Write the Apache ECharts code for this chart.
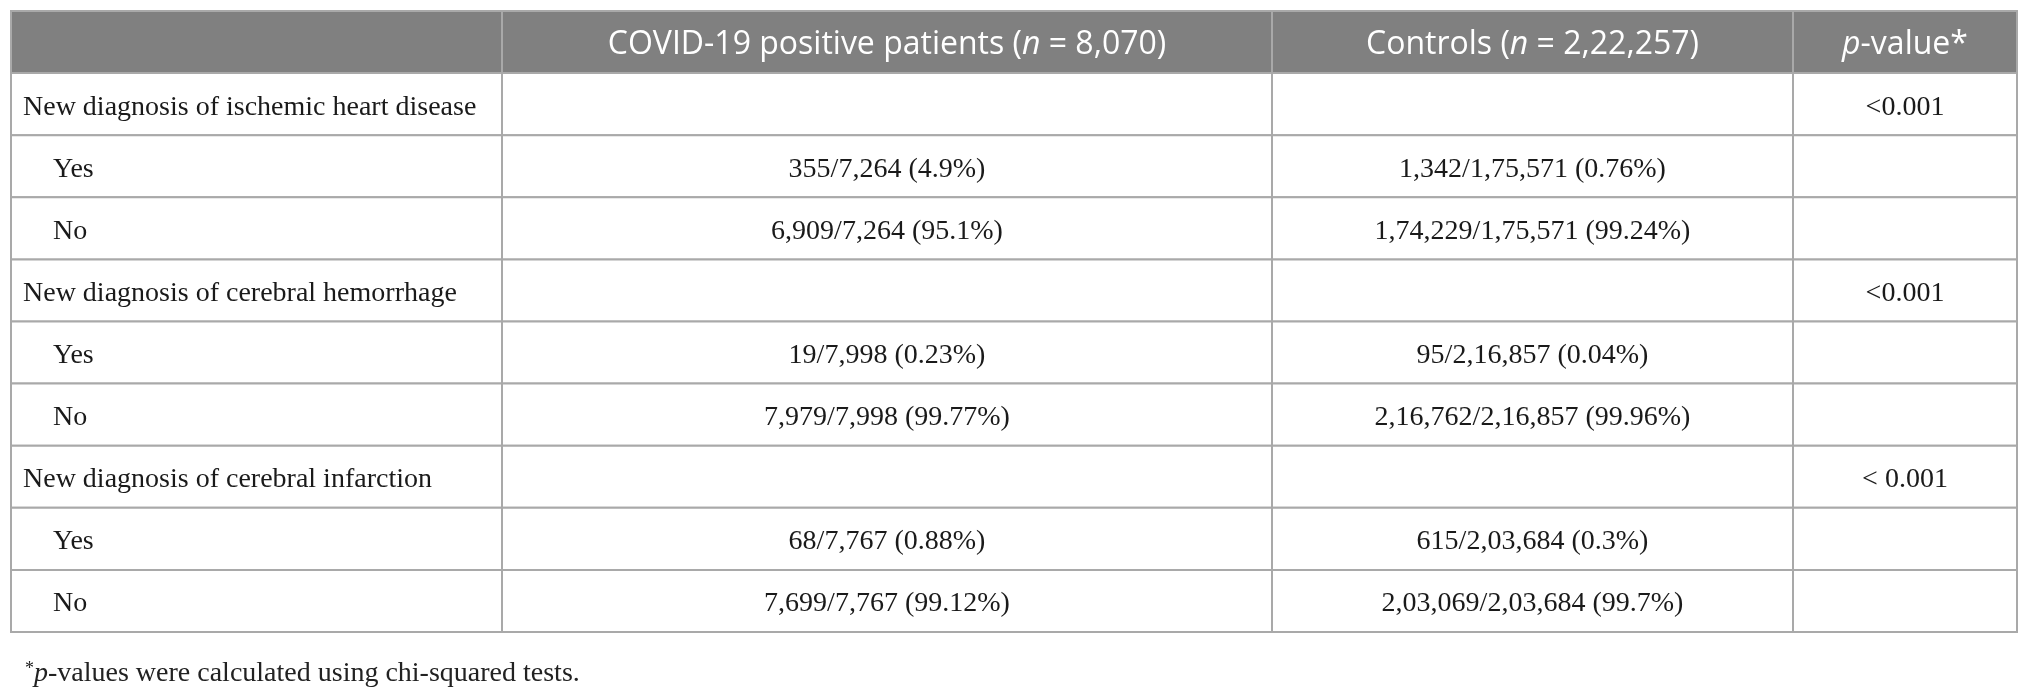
<!DOCTYPE html>
<html lang="en">
<head>
    <meta charset="UTF-8">
    <title>COVID-19 cardiovascular outcomes</title>
    <style>
        html, body { margin: 0; padding: 0; background: #fff; }
        #main { width: 2029px; height: 694px; }
    </style>
</head>
<body>
<div id="main"></div>
<script src="https://cdn.jsdelivr.net/npm/echarts@6/dist/echarts.min.js"></script>
<script type="text/javascript">
    // table content
    const headers = [
        '',
        '{h|COVID-19 positive patients (}{hi|n}{h| = 8,070)}',
        '{h|Controls (}{hi|n}{h| = 2,22,257)}',
        '{hi|p}{h|-value*}'
    ];
    const rowLabels = [
        'New diagnosis of ischemic heart disease', 'Yes', 'No',
        'New diagnosis of cerebral hemorrhage', 'Yes', 'No',
        'New diagnosis of cerebral infarction', 'Yes', 'No'
    ];
    const isSubRow = [false, true, true, false, true, true, false, true, true];
    const covidValues = [
        '', '355/7,264 (4.9%)', '6,909/7,264 (95.1%)',
        '', '19/7,998 (0.23%)', '7,979/7,998 (99.77%)',
        '', '68/7,767 (0.88%)', '7,699/7,767 (99.12%)'
    ];
    const controlValues = [
        '', '1,342/1,75,571 (0.76%)', '1,74,229/1,75,571 (99.24%)',
        '', '95/2,16,857 (0.04%)', '2,16,762/2,16,857 (99.96%)',
        '', '615/2,03,684 (0.3%)', '2,03,069/2,03,684 (99.7%)'
    ];
    const pValues = [
        '<0.001', '', '',
        '<0.001', '', '',
        '< 0.001', '', ''
    ];
    const footnote = '{s|*}{i|p}{n|-values were calculated using chi-squared tests.}';

    // layout: column edges in table units
    const colEdges = [0, 491, 1261, 1782, 2006];
    const BORDER = '#a9a9a9';
    const HEAD_BG = '#808080';
    const SERIF = '"Liberation Serif", "DejaVu Serif", serif';
    const SANS = '"Open Sans", Lato, sans-serif';
    const BODY_SIZE = 28;
    const HEAD_SIZE = 32;

    let cells = [];
    headers.forEach(function (h, c) {
        cells.push({value: [c, 0], text: h, head: true});
    });
    rowLabels.forEach(function (label, r) {
        let cols = [label, covidValues[r], controlValues[r], pValues[r]];
        cols.forEach(function (t, c) {
            cells.push({value: [c, r + 1], text: t, head: false, sub: isSubRow[r]});
        });
    });

    let myChart = echarts.init(document.getElementById('main'));
    const option = {
        animation: false,
        title: {
            left: 20,
            top: 655,
            text: footnote,
            textStyle: {
                fontWeight: 'normal',
                rich: {
                    s: {fontFamily: SERIF, fontSize: 18, fontWeight: 'normal', color: '#222', verticalAlign: 'top', padding: [0, 0, 10, 0]},
                    i: {fontFamily: SERIF, fontSize: BODY_SIZE, fontWeight: 'normal', fontStyle: 'italic', color: '#222'},
                    n: {fontFamily: SERIF, fontSize: BODY_SIZE, fontWeight: 'normal', color: '#222'}
                }
            }
        },
        grid: {left: 11, top: 11, right: 12, bottom: 62},
        xAxis: {type: 'value', min: 0, max: colEdges[colEdges.length - 1], show: false},
        yAxis: {type: 'value', min: 0, max: rowLabels.length + 1, inverse: true, show: false},
        series: [
            {
                type: 'custom',
                coordinateSystem: 'cartesian2d',
                data: cells.map(function (d) { return d.value; }),
                renderItem: function (params, api) {
                    let cell = cells[params.dataIndex];
                    let c = api.value(0), r = api.value(1);
                    let p0 = api.coord([colEdges[c], r]);
                    let p1 = api.coord([colEdges[c + 1], r + 1]);
                    let x = p0[0], y = p0[1], w = p1[0] - p0[0], h = p1[1] - p0[1];
                    let children = [{
                        type: 'rect',
                        shape: {x: x, y: y, width: w, height: h},
                        style: {fill: cell.head ? HEAD_BG : '#fff', stroke: BORDER, lineWidth: 2}
                    }];
                    if (cell.text) {
                        let left = c === 0;
                        let tx = left ? x + (cell.sub ? 42 : 12) : x + w / 2;
                        let textStyle = {
                            text: cell.text,
                            x: tx,
                            y: y + h / 2 + 3,
                            align: left ? 'left' : 'center',
                            verticalAlign: 'middle',
                            fill: cell.head ? '#fff' : '#1a1a1a',
                            font: cell.head ? (HEAD_SIZE + 'px ' + SANS) : (BODY_SIZE + 'px ' + SERIF)
                        };
                        if (cell.head) {
                            textStyle.rich = {
                                h: {fontFamily: SANS, fontSize: HEAD_SIZE, color: '#fff'},
                                hi: {fontFamily: SANS, fontSize: HEAD_SIZE, fontStyle: 'italic', color: '#fff'}
                            };
                        }
                        children.push({type: 'text', style: textStyle, z2: 10});
                    }
                    return {type: 'group', children: children};
                }
            }
        ]
    };
    myChart.setOption(option);
</script>
</body>
</html>
